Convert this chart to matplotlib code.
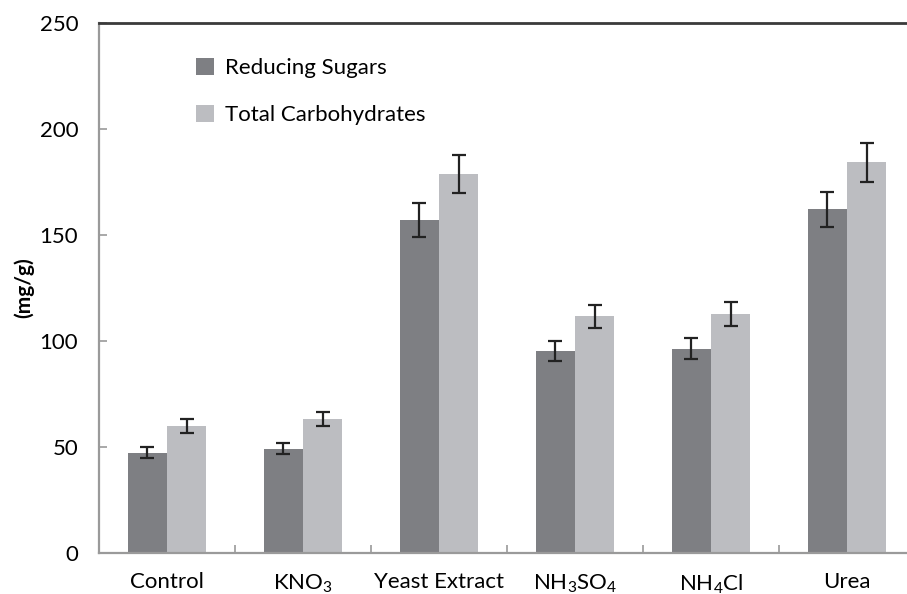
import matplotlib.pyplot as plt
import numpy as np

plt.rcParams['font.family'] = ['Lato', 'DejaVu Sans']
plt.rcParams['mathtext.default'] = 'regular'

categories = ['Control', 'KNO$_3$', 'Yeast Extract', 'NH$_3$SO$_4$', 'NH$_4$Cl', 'Urea']
reducing = [47.2, 49.1, 157.1, 95.3, 96.4, 162.1]
reducing_err = [2.6, 2.6, 7.9, 4.8, 5.0, 8.2]
total = [59.8, 63.1, 178.8, 111.6, 112.7, 184.3]
total_err = [3.2, 3.3, 8.9, 5.6, 5.6, 9.3]

dark = '#7e7f83'
light = '#bcbdc1'
axis_gray = '#9a9a9a'

fig = plt.figure(figsize=(9.07, 5.94), dpi=100)
ax = fig.add_axes([99/907, 41/594, 816/907, 530/594])

x = np.arange(len(categories))
w = 0.287
err_kw = dict(ecolor='#222222', elinewidth=1.6, capsize=5, capthick=1.6)
ax.bar(x - w/2, reducing, w, color=dark, yerr=reducing_err, error_kw=err_kw, label='Reducing Sugars')
ax.bar(x + w/2, total, w, color=light, yerr=total_err, error_kw=err_kw, label='Total Carbohydrates')

ax.set_xlim(-0.5, len(categories) - 0.5)
ax.set_ylim(0, 250)
ax.set_yticks(np.arange(0, 251, 50))
ax.tick_params(axis='y', direction='in', length=6, width=1.2, color=axis_gray, labelsize=16, pad=15)
ax.set_xticks(x)
ax.set_xticklabels(categories, fontsize=16)
ax.set_xticks(np.arange(0.5, len(categories) - 0.5, 1), minor=True)
ax.tick_params(axis='x', which='major', length=0, pad=14)
ax.tick_params(axis='x', which='minor', direction='in', length=6, width=1.2, color=axis_gray)

ax.spines['right'].set_visible(False)
ax.spines['left'].set_color(axis_gray)
ax.spines['left'].set_linewidth(1.6)
ax.spines['bottom'].set_color(axis_gray)
ax.spines['bottom'].set_linewidth(1.6)
ax.spines['top'].set_color('#3a3a3a')
ax.spines['top'].set_linewidth(2)

ax.set_ylabel('(mg/g)', fontsize=15, fontweight='bold', labelpad=4)

ax.legend(loc='upper left', bbox_to_anchor=(176/907, 1 - 38/594), bbox_transform=fig.transFigure,
          frameon=False, fontsize=16, handlelength=0.8, handleheight=0.8, handletextpad=0.5,
          labelspacing=1.2)

plt.savefig('out.png')
plt.close()
